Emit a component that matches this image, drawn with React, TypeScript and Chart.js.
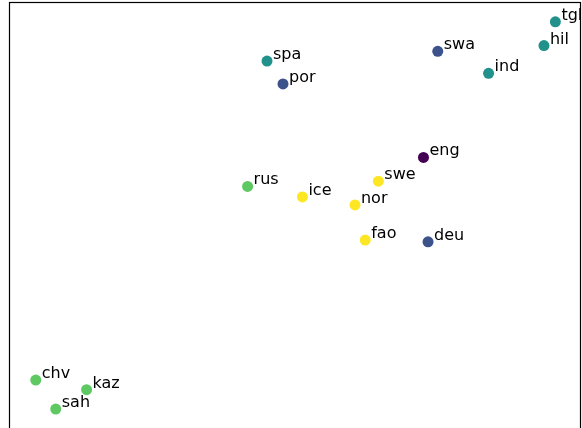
import React, { useEffect, useRef } from "react";
import { Chart, registerables } from "chart.js";

Chart.register(...registerables);

const languages = ["tgl", "hil", "swa", "ind", "spa", "por", "eng", "swe", "rus", "ice", "nor", "fao", "deu", "chv", "kaz", "sah"];
const xValues = [95.6, 93.6, 75.0, 83.9, 45.1, 47.9, 72.5, 64.6, 41.7, 51.3, 60.5, 62.3, 73.3, 4.6, 13.5, 8.1];
const yValues = [95.6, 90.2, 88.9, 83.9, 86.7, 81.5, 64.8, 59.4, 58.2, 55.8, 54.0, 46.0, 45.6, 14.2, 12.0, 7.6];
const groups = [2, 2, 1, 2, 2, 1, 0, 4, 3, 4, 4, 4, 1, 3, 3, 3];
const palette = ["#440154", "#3b528b", "#21918c", "#5ec962", "#fde725"];

const frameAndLabels = {
  id: "frameAndLabels",
  afterDatasetsDraw(chart: any) {
    const { ctx, chartArea } = chart;
    const meta = chart.getDatasetMeta(0);
    ctx.save();
    ctx.beginPath();
    ctx.rect(chartArea.left, chartArea.top, chartArea.right - chartArea.left, chartArea.bottom - chartArea.top);
    ctx.clip();
    ctx.fillStyle = "#000";
    ctx.font = "16px 'DejaVu Sans'";
    ctx.textBaseline = "alphabetic";
    ctx.textAlign = "left";
    meta.data.forEach((pt: any, i: number) => {
      ctx.fillText(languages[i], pt.x + 6, pt.y - 2);
    });
    ctx.restore();
    ctx.save();
    ctx.strokeStyle = "#000";
    ctx.lineWidth = 1.2;
    ctx.strokeRect(chartArea.left, chartArea.top, chartArea.right - chartArea.left, chartArea.bottom - chartArea.top);
    ctx.restore();
  },
};

export default function App() {
  const ref = useRef<HTMLCanvasElement | null>(null);
  useEffect(() => {
    if (!ref.current) return;
    const chart = new Chart(ref.current, {
      type: "scatter",
      data: {
        datasets: [
          {
            data: xValues.map((x, i) => ({ x, y: yValues[i] })),
            backgroundColor: groups.map((g) => palette[g]),
            borderWidth: 0,
            pointRadius: 5.5,
            pointHoverRadius: 5.5,
          },
        ],
      },
      options: {
        responsive: false,
        animation: false,
        layout: { autoPadding: false, padding: { left: 9.5, top: 2.5, right: 1.5, bottom: 7.5 } },
        plugins: { legend: { display: false }, tooltip: { enabled: false } },
        scales: {
          x: { type: "linear", min: 0, max: 100, display: false },
          y: { type: "linear", min: 0, max: 100, display: false },
        },
      },
      plugins: [frameAndLabels],
    });
    return () => chart.destroy();
  }, []);
  return (
    <div style={{ position: "fixed", left: 0, top: 0, width: 582, height: 428, overflow: "hidden", background: "#fff" }}>
      <canvas ref={ref} width={582} height={450} style={{ display: "block" }} />
    </div>
  );
}
